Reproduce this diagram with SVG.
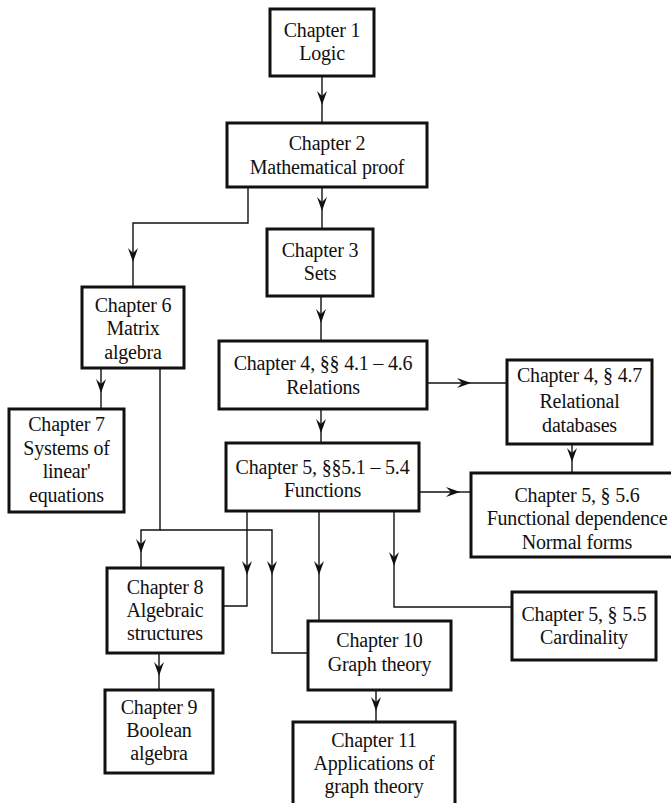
<svg xmlns="http://www.w3.org/2000/svg" width="671" height="803" viewBox="0 0 671 803">
<style>
.box{fill:#fff;stroke:#111;stroke-width:3}
.t{font-family:"Liberation Serif","Times New Roman",serif;font-size:20px;letter-spacing:-0.2px;fill:#111;text-anchor:middle}
.c{fill:none;stroke:#111;stroke-width:1.4}
.a{fill:none;stroke:#111;stroke-width:1.4;marker-end:url(#ah)}
</style>
<defs>
<marker id="ah" markerUnits="userSpaceOnUse" viewBox="-14 -6 15 12" refX="0" refY="0" markerWidth="15" markerHeight="12" orient="auto">
<path d="M0,0 L-14,-5 L-9,0 L-14,5 Z" fill="#111"/>
</marker>
</defs>
<rect width="671" height="803" fill="#fff"/>
<g id="connectors">
<path class="a" d="M322,76 V105"/><path class="c" d="M322,105 V123"/>
<path class="a" d="M322,187 V211"/><path class="c" d="M322,211 V229"/>
<path class="a" d="M248,187 V223 H133 V262"/><path class="c" d="M133,262 V287"/>
<path class="a" d="M321,296 V323"/><path class="c" d="M321,323 V340"/>
<path class="a" d="M101,368 V393"/><path class="c" d="M101,393 V409"/>
<path class="a" d="M427,383 H471"/><path class="c" d="M471,383 H507"/>
<path class="a" d="M572,444 V462"/><path class="c" d="M572,462 V473"/>
<path class="a" d="M321,409 V433"/><path class="c" d="M321,433 V443"/>
<path class="a" d="M419,492 H460"/><path class="c" d="M460,492 H471"/>
<path class="a" d="M160,368 V530 H141 V553"/><path class="c" d="M141,553 V568"/>
<path class="a" d="M160,530 H272 V575"/><path class="c" d="M272,575 V653 H308"/>
<path class="a" d="M247,511 V575"/><path class="c" d="M247,575 V606 H223"/>
<path class="a" d="M319,511 V575"/><path class="c" d="M319,575 V621"/>
<path class="a" d="M394,511 V566"/><path class="c" d="M394,566 V607 H512"/>
<path class="a" d="M159,653 V676"/><path class="c" d="M159,676 V690"/>
<path class="a" d="M376,690 V711"/><path class="c" d="M376,711 V722"/>
</g>
<g id="ch1"><rect class="box" x="270" y="9" width="104" height="67"/>
<text class="t" x="322" y="37">Chapter 1</text><text class="t" x="322" y="60">Logic</text></g>
<g id="ch2"><rect class="box" x="227" y="123" width="200" height="64"/>
<text class="t" x="327" y="150">Chapter 2</text><text class="t" x="327" y="174">Mathematical proof</text></g>
<g id="ch3"><rect class="box" x="267" y="229" width="106" height="67"/>
<text class="t" x="320" y="257">Chapter 3</text><text class="t" x="320" y="280">Sets</text></g>
<g id="ch6"><rect class="box" x="82" y="287" width="102" height="81"/>
<text class="t" x="133" y="312">Chapter 6</text><text class="t" x="133" y="335">Matrix</text><text class="t" x="133" y="359">algebra</text></g>
<g id="ch7"><rect class="box" x="9" y="409" width="115" height="103"/>
<text class="t" x="66.5" y="431">Chapter 7</text><text class="t" x="66.5" y="454.5">Systems of</text><text class="t" x="66.5" y="478">linear'</text><text class="t" x="66.5" y="501.5">equations</text></g>
<g id="ch4"><rect class="box" x="219" y="341" width="208" height="68"/>
<text class="t" x="323" y="370">Chapter 4, §§ 4.1 – 4.6</text><text class="t" x="323" y="393.5">Relations</text></g>
<g id="ch4-7"><rect class="box" x="507" y="360" width="145" height="84"/>
<text class="t" x="579.5" y="382">Chapter 4, § 4.7</text><text class="t" x="579.5" y="408">Relational</text><text class="t" x="579.5" y="432">databases</text></g>
<g id="ch5"><rect class="box" x="226" y="443" width="193" height="68"/>
<text class="t" x="322.5" y="474">Chapter 5, §§5.1 – 5.4</text><text class="t" x="322.5" y="497">Functions</text></g>
<g id="ch5-6"><rect class="box" x="471" y="473" width="212" height="84"/>
<text class="t" x="577" y="502">Chapter 5, § 5.6</text><text class="t" x="577" y="525">Functional dependence</text><text class="t" x="577" y="549">Normal forms</text></g>
<g id="ch5-5"><rect class="box" x="512" y="592" width="144" height="68"/>
<text class="t" x="584" y="621">Chapter 5, § 5.5</text><text class="t" x="584" y="644">Cardinality</text></g>
<g id="ch8"><rect class="box" x="107" y="568" width="116" height="85"/>
<text class="t" x="165" y="594">Chapter 8</text><text class="t" x="165" y="617">Algebraic</text><text class="t" x="165" y="640">structures</text></g>
<g id="ch9"><rect class="box" x="105" y="690" width="108" height="83"/>
<text class="t" x="159" y="714">Chapter 9</text><text class="t" x="159" y="737">Boolean</text><text class="t" x="159" y="760">algebra</text></g>
<g id="ch10"><rect class="box" x="308" y="621" width="143" height="69"/>
<text class="t" x="379.5" y="647">Chapter 10</text><text class="t" x="379.5" y="671">Graph theory</text></g>
<g id="ch11"><rect class="box" x="293" y="722" width="162" height="90"/>
<text class="t" x="374" y="747">Chapter 11</text><text class="t" x="374" y="770">Applications of</text><text class="t" x="374" y="793">graph theory</text></g>
</svg>
